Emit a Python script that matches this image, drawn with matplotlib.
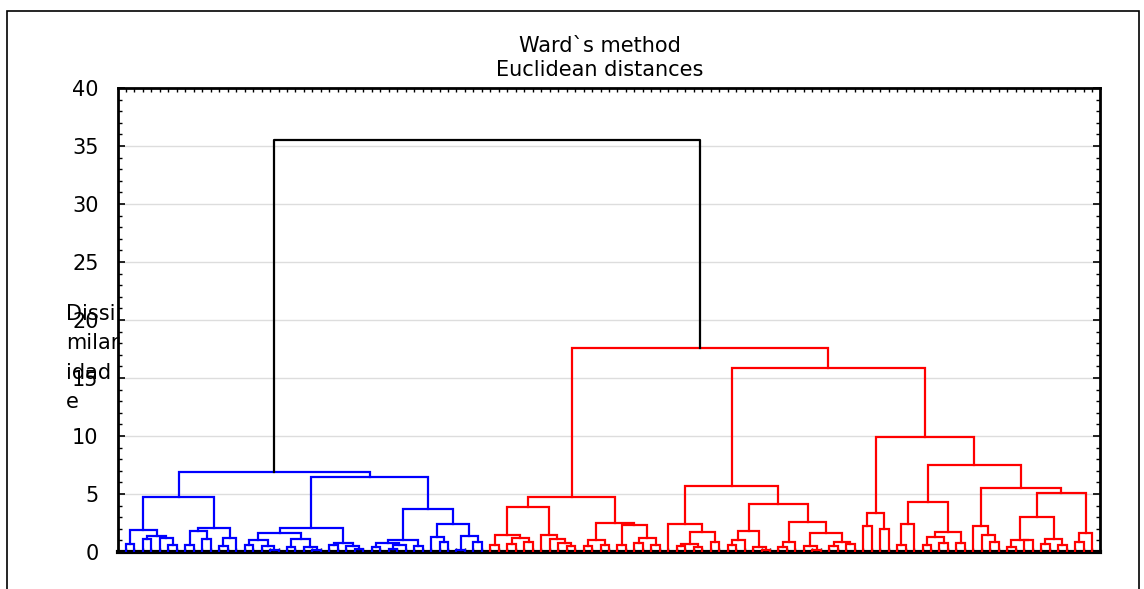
import matplotlib
matplotlib.use("Agg")
import matplotlib.pyplot as plt
from matplotlib.patches import Rectangle
from matplotlib.ticker import MultipleLocator

plt.rcParams['font.family'] = ['DejaVu Sans']

# Ward linkage tree: each node is (height, left, right), a leaf is 0
L = 0

blue_a = (4.74,
          (1.9, (0.66, L, L), (1.4, (1.1, L, L), (1.2, L, (0.6, L, L)))),
          (2.07, (1.8, (0.6, L, L), (1.1, L, L)), (1.2, (0.5, L, L), L)))
blue_b = (6.5,
          (2.07,
           (1.6, (1.0, (0.6, L, L), (0.5, L, (0.2, L, L))),
                 (1.1, (0.4, L, L), (0.4, L, (0.15, L, L)))),
           (0.8, (0.6, L, L), (0.5, L, (0.3, L, L)))),
          (3.7,
           (1.0, (0.8, (0.4, L, L), (0.6, (0.3, L, L), L)), (0.5, L, L)),
           (2.4, (1.3, L, (0.9, L, L)), (1.4, (0.2, L, L), (0.9, L, L)))))
blue = (6.9, blue_a, blue_b)

red_a = (4.7,
         (3.9,
          (1.47, (0.6, L, L), (1.2, (0.7, L, L), (0.9, L, L))),
          (1.5, L, (1.1, L, (0.8, L, (0.5, L, L))))),
         (2.5,
          (1.0, (0.5, L, L), (0.6, L, L)),
          (2.3, (0.6, L, L), (1.2, (0.8, L, L), (0.6, L, L)))))
red_b1 = (5.7,
          (2.4, L, (1.7, (0.7, (0.5, L, L), (0.4, L, L)), (0.9, L, L))),
          (4.1,
           (1.8, (1.0, (0.6, L, L), L), (0.4, L, (0.2, L, L))),
           (2.6, (0.9, (0.4, L, L), L),
                 (1.6, (0.5, L, (0.2, L, L)),
                       (0.9, (0.5, L, L), (0.7, L, L))))))
red_b2 = (9.9,
          (3.4, (2.2, L, L), (2.0, L, L)),
          (7.5,
           (4.3, (2.4, (0.6, L, L), L),
                 (1.7, (1.3, (0.6, L, L), (0.8, L, L)), (0.8, L, L))),
           (5.5,
            (2.2, L, (1.5, L, (0.9, L, L))),
            (5.1,
             (3.0, (1.0, (0.4, L, L), (1.0, L, L)), (1.1, (0.7, L, L), (0.6, L, L))),
             (1.6, (0.9, L, L), L)))))
red = (17.6, red_a, (15.9, red_b1, red_b2))

root_height = 35.5

title = "Ward`s method\nEuclidean distances"
ylabel = "Dissi\nmilar\nidad\ne"
yticks = [0, 5, 10, 15, 20, 25, 30, 35, 40]


def draw(ax, node, color, pos):
    if node == L:
        x = pos[0]
        pos[0] += 1
        return x, 0.0
    h, a, b = node
    xa, ha = draw(ax, a, color, pos)
    xb, hb = draw(ax, b, color, pos)
    ax.plot([xa, xa, xb, xb], [ha, h, h, hb], color=color, lw=1.6,
            solid_joinstyle='miter', zorder=3)
    return (xa + xb) / 2, h


fig = plt.figure(figsize=(11.44, 5.89), dpi=100)
ax = fig.add_axes([118 / 1144, 1 - 552 / 589, 982 / 1144, 464 / 589])

pos = [0]
xb, hb = draw(ax, blue, (0, 0, 1), pos)
xr, hr = draw(ax, red, (1, 0, 0), pos)
ax.plot([xb, xb, xr, xr], [hb, root_height, root_height, hr],
        color='black', lw=1.6, zorder=3)

n = pos[0]
step = 966 / (n - 1)
ax.set_xlim(-8 / step, n - 1 + 8 / step)
ax.set_ylim(0, 40)

ax.set_yticks(yticks)
ax.yaxis.set_minor_locator(MultipleLocator(1))
ax.set_xticks(range(n))
ax.set_xticklabels([])
ax.tick_params(axis='y', which='major', direction='in', length=5, width=1.2,
               right=True, labelsize=15, pad=14, labelcolor='black')
ax.tick_params(axis='y', which='minor', direction='in', length=3, width=1,
               right=True)
ax.tick_params(axis='x', which='major', direction='in', length=3, width=1,
               top=True, bottom=True)
ax.grid(axis='y', color='#dddddd', lw=1, zorder=0)
for s in ax.spines.values():
    s.set_linewidth(2)
ax.spines['bottom'].set_linewidth(3)

fig.text(600 / 1144, 1 - 58 / 589, title, ha='center', va='center',
         fontsize=15, linespacing=1.29)
fig.text(66 / 1144, 1 - 358 / 589, ylabel, ha='left', va='center',
         fontsize=15, linespacing=1.57)

# outer frame around the whole figure
fig.patches.append(Rectangle((7 / 1144, -0.05), 1132 / 1144, 1.05 - 11 / 589,
                             transform=fig.transFigure, fill=False,
                             edgecolor='black', lw=1.2))

fig.savefig("out.png", dpi=100)
